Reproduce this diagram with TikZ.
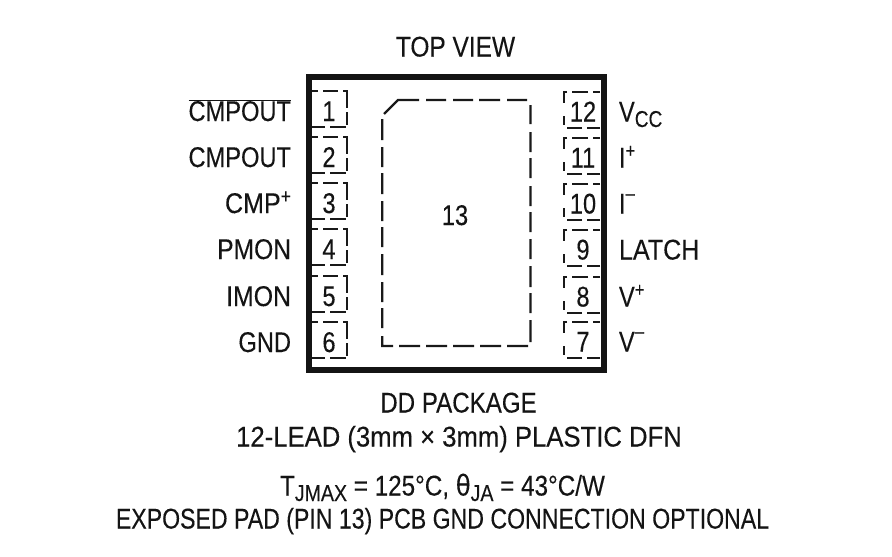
\documentclass[tikz,border=0pt]{standalone}
\usepackage{fontspec}
\setmainfont[FakeStretch=0.83,FakeBold=0.2]{Liberation Sans}
\newcommand{\tsub}[1]{\raisebox{-5.5pt}{\fontsize{23}{23}\selectfont #1}}
\newcommand{\tplus}{\raisebox{10pt}{\fontsize{20}{20}\selectfont +}}
\newcommand{\tminus}{\raisebox{13.5pt}{\fontsize{20}{20}\selectfont –}}
\newcommand{\hs}[2]{\scalebox{#1}[1]{#2}}
\newfontfamily\symfont[FakeStretch=0.83,FakeBold=0.2]{DejaVu Sans}
\tikzset{
  x=1pt,y=-1pt,
  txt/.style={inner sep=0pt,outer sep=0pt,font=\fontsize{28.5}{28.5}\selectfont,text=black!92,anchor=base},
  lft/.style={txt,anchor=base east},
  rgt/.style={txt,anchor=base west},
  num/.style={txt,anchor=base},
  pkg/.style={draw=black!92,line width=6.3pt},
  dashln/.style={draw=black!90,line width=2.2pt},
}
% left pin: centre y
\newcommand{\lpin}[3]{%
  \node[num] (p#1) at (329,#2+11) {#1};
  \draw[dashln] (312,#2-19) -- (318,#2-19) (323,#2-19) -- (338,#2-19) (343,#2-19) -- (347,#2-19) -- (347,#2-2)
     (347,#2+2) -- (347,#2+15)
     (312,#2+17) -- (325,#2+17) (330,#2+17) -- (346,#2+17);
  \node[lft] (l#1) at (291,#2+11) {#3};
}
\newcommand{\rpin}[3]{%
  \node[num] (p#1) at (583,#2+11.5) {#1};
  \draw[dashln] (600,#2-18) -- (593,#2-18) (588,#2-18) -- (572,#2-18) (567,#2-18) -- (564,#2-18) -- (564,#2-7)
     (564,#2+6) -- (564,#2+15)
     (600,#2+18) -- (587,#2+18) (582,#2+18) -- (567,#2+18);
  \node[rgt] (l#1) at (619,#2+11.5) {#3};
}
\begin{document}
\begin{tikzpicture}
\useasboundingbox (0,0) rectangle (892,557);
\node[txt] (top) at (455.5,56.5) {\hs{1.035}{TOP VIEW}};
\draw[pkg] (308.7,76.8) rectangle (604,369.7);
\lpin{1}{110}{$\overline{\mbox{CMPOUT}}$}
\lpin{2}{156}{CMPOUT}
\lpin{3}{202}{\hs{1.06}{CMP\tplus}}
\lpin{4}{248}{\hs{1.04}{PMON}}
\lpin{5}{295}{\hs{1.05}{IMON}}
\lpin{6}{341}{GND}
\rpin{12}{110}{V\tsub{CC}}
\rpin{11}{156}{I\tplus}
\rpin{10}{202}{I\tminus}
\rpin{9}{248}{\hs{1.06}{LATCH}}
\rpin{8}{295}{V\tplus}
\rpin{7}{340}{V\tminus}
\node[txt] (pad) at (455,225) {13};
\draw[dashln] (384,114) -- (398,100) -- (419,100) (426,100) -- (446,100) (453,100) -- (473,100) (479,100) -- (500,100) (507,100) -- (527,100)
  (530.5,105) -- (530.5,124) (530.5,132) -- (530.5,152) (530.5,158) -- (530.5,178) (530.5,186) -- (530.5,206) (530.5,212) -- (530.5,232) (530.5,239) -- (530.5,259) (530.5,266) -- (530.5,287) (530.5,293) -- (530.5,313) (530.5,320) -- (530.5,342)
  (528,346) -- (507,346) (501,346) -- (480,346) (474,346) -- (453,346) (447,346) -- (426,346) (420,346) -- (399,346) (393,346) -- (382.3,346) -- (382.3,336)
  (382.3,328) -- (382.3,308) (382.3,302) -- (382.3,282) (382.3,275) -- (382.3,254) (382.3,247) -- (382.3,227) (382.3,221) -- (382.3,201) (382.3,194) -- (382.3,173) (382.3,167) -- (382.3,147) (382.3,140) -- (382.3,119);
\node[txt] (a) at (458.5,412.5) {\hs{1.02}{DD PACKAGE}};
\node[txt] (b) at (459,446.5) {\hs{1.085}{12-LEAD (3mm × 3mm) PLASTIC DFN}};
\node[txt] (c) at (442.5,495.5) {\hs{1.025}{T\tsub{JMAX} = 125°C, {\symfont θ}\tsub{JA} = 43°C/W}};
\node[txt] (d) at (442.5,528.5) {\hs{0.977}{EXPOSED PAD (PIN 13) PCB GND CONNECTION OPTIONAL}};
\end{tikzpicture}
\end{document}
